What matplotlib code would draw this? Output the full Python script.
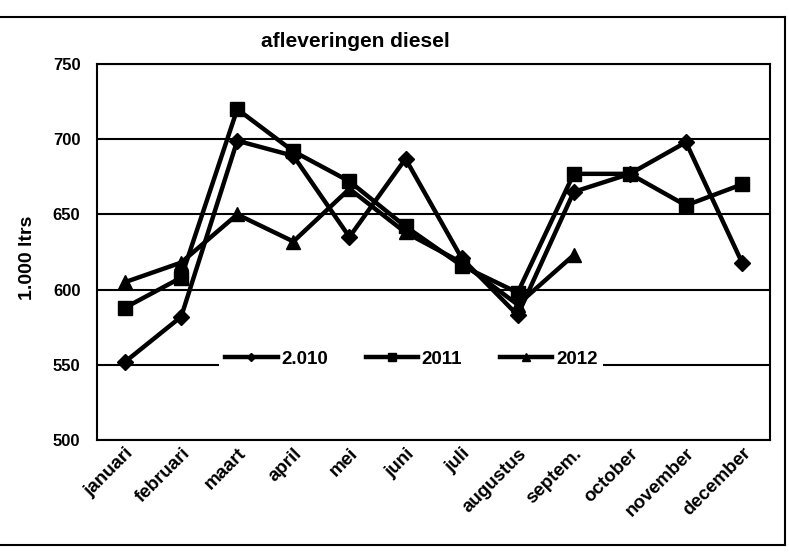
import matplotlib
matplotlib.use("Agg")
import matplotlib.pyplot as plt
from matplotlib.lines import Line2D

# Data (x 1.000 ltrs)
months = ['januari', 'februari', 'maart', 'april', 'mei', 'juni',
          'juli', 'augustus', 'septem.', 'october', 'november', 'december']
diesel_2010 = [552, 582, 699, 689, 635, 687, 621, 583, 665, 677, 698, 618]
diesel_2011 = [588, 608, 720, 692, 672, 642, 616, 598, 677, 677, 656, 670]
diesel_2012 = [605, 618, 650, 632, 667, 638, 618, 590, 623]

plt.rcParams['font.family'] = ['Liberation Sans', 'DejaVu Sans']
plt.rcParams['font.weight'] = 'bold'

fig = plt.figure(figsize=(7.89, 5.57), dpi=100)
ax = fig.add_axes([0.123, 0.21, 0.853, 0.675])

x = list(range(len(months)))
ax.plot(x, diesel_2010, color='black', lw=3.2, marker='D', ms=8, label='2.010')
ax.plot(x, diesel_2011, color='black', lw=3.2, marker='s', ms=10, label='2011')
ax.plot(x[:len(diesel_2012)], diesel_2012, color='black', lw=3.2, marker='^', ms=10, label='2012')

ax.set_xlim(-0.5, len(months) - 0.5)
ax.set_ylim(500, 750)
ax.set_yticks([500, 550, 600, 650, 700, 750])
ax.yaxis.grid(True, color='black', lw=1.5)
ax.set_axisbelow(True)
ax.tick_params(axis='both', length=0, labelsize=12)
ax.tick_params(axis='y', pad=12)
ax.set_xticks(x)
ax.set_xticklabels(months, rotation=45, ha='right', rotation_mode='anchor',
                   fontsize=13.5, fontweight='bold')
for lab in ax.get_yticklabels():
    lab.set_fontweight('bold')
for sp in ax.spines.values():
    sp.set_linewidth(1.5)

ax.set_ylabel('1.000 ltrs', fontsize=14, fontweight='bold')
ax.yaxis.set_label_coords(-0.09, 0.485)

leg = ax.legend(loc='center', bbox_to_anchor=(0.467, 0.215), ncol=3,
                frameon=True, fancybox=False, framealpha=1, edgecolor='none',
                facecolor='white', fontsize=13.5, handlelength=2.8,
                columnspacing=2.0, handletextpad=0.2, borderpad=0.3,
                borderaxespad=0, markerscale=0.55)
for t in leg.get_texts():
    t.set_fontweight('bold')

fig.text(0.45, 0.925, 'afleveringen diesel', ha='center', va='center',
         fontsize=15, fontweight='bold')

# outer frame of the chart
fig.add_artist(Line2D([0.0, 0.995], [0.97, 0.97], color='black', lw=1.5))
fig.add_artist(Line2D([0.0, 0.995], [0.022, 0.022], color='black', lw=1.5))
fig.add_artist(Line2D([0.995, 0.995], [0.022, 0.97], color='black', lw=1.5))

fig.savefig('out.png', dpi=100)
